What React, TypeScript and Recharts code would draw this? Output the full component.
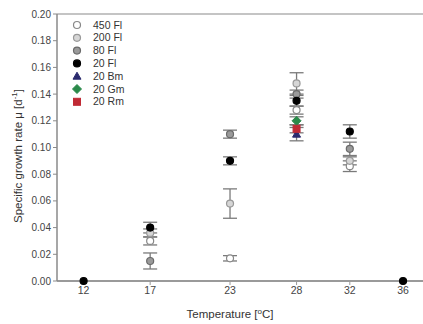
import React from "react";
import {
  ScatterChart,
  Scatter,
  XAxis,
  YAxis,
  ErrorBar,
  ReferenceLine,
  Label,
} from "recharts";

const temps = [12, 17, 23, 28, 32, 36];
const xTicks = [12, 17, 23, 28, 32, 36];
const yTicks = [0, 0.02, 0.04, 0.06, 0.08, 0.1, 0.12, 0.14, 0.16, 0.18, 0.2];

const fl450 = [null, 0.03, 0.017, 0.128, 0.086, null];
const fl450Err = [0, 0.003, 0.002, 0.003, 0.004, 0];
const fl200 = [null, 0.036, 0.058, 0.148, 0.09, null];
const fl200Err = [0, 0.003, 0.011, 0.008, 0.003, 0];
const fl80 = [null, 0.015, 0.11, 0.14, 0.099, null];
const fl80Err = [0, 0.006, 0.003, 0.003, 0.005, 0];
const fl20 = [0, 0.04, 0.09, 0.135, 0.112, 0];
const fl20Err = [0, 0.004, 0.003, 0.004, 0.005, 0];
const bm20 = [null, null, null, 0.11, null, null];
const bm20Err = [0, 0, 0, 0.005, 0, 0];
const gm20 = [null, null, null, 0.12, null, null];
const gm20Err = [0, 0, 0, 0.003, 0, 0];
const rm20 = [null, null, null, 0.114, null, null];
const rm20Err = [0, 0, 0, 0.003, 0, 0];

const build = (vals: (number | null)[], errs: number[]) =>
  temps
    .map((t, i) => ({ t, v: vals[i], e: errs[i] }))
    .filter((d) => d.v !== null);

type Shape = "circle" | "triangle" | "diamond" | "square";
const series = [
  { name: "450 Fl", data: build(fl450, fl450Err), fill: "#ffffff", stroke: "#888888", shape: "circle" as Shape },
  { name: "200 Fl", data: build(fl200, fl200Err), fill: "#d6d6d6", stroke: "#999999", shape: "circle" as Shape },
  { name: "80 Fl", data: build(fl80, fl80Err), fill: "#9a9a9a", stroke: "#6a6a6a", shape: "circle" as Shape },
  { name: "20 Fl", data: build(fl20, fl20Err), fill: "#000000", stroke: "#000000", shape: "circle" as Shape },
  { name: "20 Bm", data: build(bm20, bm20Err), fill: "#2b2b6e", stroke: "#2b2b6e", shape: "triangle" as Shape },
  { name: "20 Gm", data: build(gm20, gm20Err), fill: "#2a8a4a", stroke: "#2a8a4a", shape: "diamond" as Shape },
  { name: "20 Rm", data: build(rm20, rm20Err), fill: "#c02a35", stroke: "#c02a35", shape: "square" as Shape },
];

function Marker({ cx, cy, fill, stroke, shape }: any) {
  if (cx == null || cy == null) return null;
  const r = 3.5;
  if (shape === "triangle")
    return (
      <polygon
        points={`${cx},${cy - 4} ${cx - 4},${cy + 3} ${cx + 4},${cy + 3}`}
        fill={fill}
        stroke={stroke}
        strokeWidth={1}
      />
    );
  if (shape === "diamond")
    return (
      <polygon
        points={`${cx},${cy - 4.5} ${cx + 4.5},${cy} ${cx},${cy + 4.5} ${cx - 4.5},${cy}`}
        fill={fill}
        stroke={stroke}
        strokeWidth={1}
      />
    );
  if (shape === "square")
    return <rect x={cx - 3.5} y={cy - 3.5} width={7} height={7} fill={fill} stroke={stroke} strokeWidth={1} />;
  return <circle cx={cx} cy={cy} r={r} fill={fill} stroke={stroke} strokeWidth={1.2} />;
}

const font = "'Liberation Sans', Arial, sans-serif";

function LegendBox() {
  return (
    <svg width={90} height={95} style={{ overflow: "visible", display: "block" }}>
      {series.map((s, i) => (
        <g key={s.name}>
          <Marker cx={6} cy={6 + i * 12.8} fill={s.fill} stroke={s.stroke} shape={s.shape} />
          <text x={22} y={6 + i * 12.8} dy="0.35em" fontSize={10.5} fill="#333" fontFamily={font}>
            {s.name}
          </text>
        </g>
      ))}
    </svg>
  );
}

export default function App() {
  return (
    <div style={{ position: "absolute", left: 0, top: 0, width: 423, height: 324, background: "#fff" }}>
      <ScatterChart
        width={423}
        height={324}
        margin={{ top: 14, right: 0, left: 0, bottom: 0 }}
        style={{ fontFamily: font }}
      >
        <XAxis
          type="number"
          dataKey="t"
          domain={[10, 37.5]}
          ticks={xTicks}
          allowDataOverflow
          height={43}
          stroke="#9a9a9a"
          strokeWidth={2}
          tickSize={4}
          tick={{ fill: "#444", fontSize: 10.5, fontFamily: font }}
          tickLine={{ stroke: "#9a9a9a", strokeWidth: 1 }}
        >
          <Label
            content={() => (
              <text x={230} y={318} textAnchor="middle" fontSize={11.5} fill="#333" fontFamily={font}>
                Temperature [<tspan dy={-4} fontSize={8}>o</tspan>
                <tspan dy={4}>C]</tspan>
              </text>
            )}
          />
        </XAxis>
        <YAxis
          type="number"
          dataKey="v"
          domain={[0, 0.2]}
          ticks={yTicks}
          width={57}
          stroke="#8a8a8a"
          strokeWidth={1.5}
          tickSize={4}
          tickFormatter={(v: number) => v.toFixed(2)}
          tick={{ fill: "#444", fontSize: 10, fontFamily: font }}
          tickLine={{ stroke: "#8a8a8a", strokeWidth: 1 }}
        >
          <Label
            content={() => (
              <text
                x={18}
                y={156}
                transform="rotate(-90 18 156)"
                textAnchor="middle"
                dominantBaseline="central"
                fontSize={11.5}
                fill="#333"
                fontFamily={font}
              >
                Specific growth rate μ [d<tspan dy={-4} fontSize={8}>-1</tspan>
                <tspan dy={4}>]</tspan>
              </text>
            )}
          />
        </YAxis>
        <ReferenceLine y={0.2} stroke="#8a8a8a" strokeWidth={1.2} />
        {series.map((s) => (
          <Scatter
            key={s.name}
            name={s.name}
            data={s.data}
            isAnimationActive={false}
            shape={(p: any) => <Marker cx={p.cx} cy={p.cy} fill={s.fill} stroke={s.stroke} shape={s.shape} />}
          >
            <ErrorBar dataKey="e" direction="y" width={7} stroke="#7a7a7a" strokeWidth={1.3} />
          </Scatter>
        ))}
      </ScatterChart>
      <div style={{ position: "absolute", left: 71, top: 19 }}>
        <LegendBox />
      </div>
    </div>
  );
}
